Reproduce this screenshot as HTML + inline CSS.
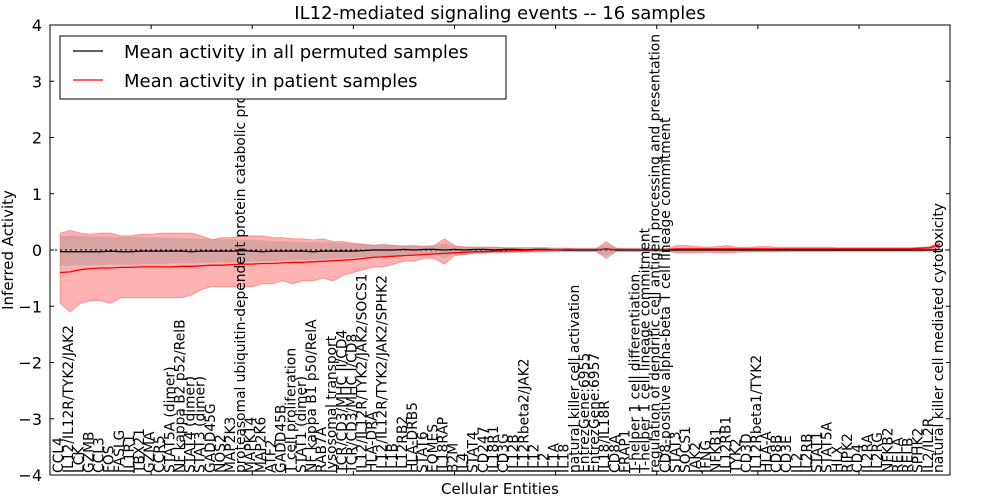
<!DOCTYPE html>
<html><head><meta charset="utf-8">
<style>
html,body{margin:0;padding:0;background:#fff;}
svg{display:block;font-family:"DejaVu Sans","Liberation Sans",sans-serif;}
</style></head>
<body>
<svg id="chart" width="1000" height="500" xmlns="http://www.w3.org/2000/svg">
<text x="500" y="19" font-size="18" text-anchor="middle">IL12-mediated signaling events -- 16 samples</text>
<text transform="translate(13,250) rotate(-90)" font-size="15" text-anchor="middle">Inferred Activity</text>
<text x="500" y="494" font-size="15" text-anchor="middle">Cellular Entities</text>
<g id="plot"></g>
<g id="legend">
<rect x="60" y="36" width="446" height="63" fill="#fff" stroke="#000" stroke-width="1"/>
<line x1="73" y1="51" x2="103" y2="51" stroke="#000" stroke-width="1.3"/>
<text x="124" y="58" font-size="18">Mean activity in all permuted samples</text>
<line x1="73" y1="80" x2="103" y2="80" stroke="#f00" stroke-width="1.3"/>
<text x="124" y="87" font-size="18">Mean activity in patient samples</text>
</g>
</svg>
<script>
const categories = ["CCL4","IL12/IL12R/TYK2/JAK2","LCK","GZMB","CCL3","FOS","FASLG","IL1R1","TBX21","GZMA","CCR5","STAT5A (dimer)","NF kappa B2 p52/RelB","STAT4 (dimer)","STAT3 (dimer)","GADD45G","NOS2","MAP2K3","proteasomal ubiquitin-dependent protein catabolic process","MAPK14","MAP2K6","ATF2","GADD45B","T cell proliferation","STAT1 (dimer)","NF kappa B1 p50/RelA","RAB7A","lysosomal transport","TCR/CD3/MHC II/CD4","TCR/CD3/MHC I/CD8","IL12/IL12R/TYK2/JAK2/SOCS1","HLA-DRA","IL12/IL12R/TYK2/JAK2/SPHK2","IL1B","IL12RB2","HLA-DRB5","STAT6","EOMES","IL18RAP","B2M","IL4","STAT4","CD247","IL18R1","CD3G","IL12B","IL12Rbeta2/JAK2","IL12","IL2","IL1A","IL18","natural killer cell activation","EntrezGene:6955","EntrezGene:6957","IL18/IL18R","CD8A","FRAP1","T-helper 1 cell differentiation","T-helper 1 cell lineage commitment","regulation of dendritic cell antigen processing and presentation","CD8-positive alpha-beta T cell lineage commitment","STAT3","SOCS1","JAK2","IFNG","NFKB1","IL12RB1","TYK2","CD3D","IL12Rbeta1/TYK2","HLA-A","CD8B","CD3E","IL2","IL2RB","STAT1","STAT5A","HLX","RIPK2","CD4","IL2RA","IL2RG","NFKB2","RELA","RELB","SPHK2","IL2/IL2R","natural killer cell mediated cytotoxicity"];
const patientMean = [-0.4,-0.39,-0.35,-0.33,-0.32,-0.32,-0.31,-0.31,-0.3,-0.3,-0.3,-0.3,-0.29,-0.29,-0.28,-0.27,-0.27,-0.26,-0.25,-0.25,-0.24,-0.24,-0.23,-0.22,-0.22,-0.21,-0.2,-0.19,-0.18,-0.17,-0.15,-0.13,-0.12,-0.11,-0.1,-0.09,-0.08,-0.07,-0.06,-0.05,-0.04,-0.03,-0.03,-0.02,-0.02,-0.01,-0.01,0,0,0,0.01,0.01,0.01,0.01,0.01,0.01,0.01,0.01,0.01,0.01,0.01,0.02,0.02,0.02,0.02,0.02,0.02,0.02,0.02,0.02,0.02,0.02,0.02,0.02,0.02,0.02,0.02,0.02,0.02,0.02,0.02,0.02,0.02,0.02,0.02,0.03,0.04,0.1];
const patientUpper = [0.3,0.35,0.3,0.28,0.3,0.3,0.25,0.25,0.28,0.28,0.3,0.3,0.3,0.3,0.25,0.18,0.22,0.22,0.25,0.25,0.25,0.22,0.22,0.2,0.2,0.18,0.2,0.15,0.15,0.12,0.1,0.08,0.1,0.08,0.06,0.08,0.06,0.08,0.2,0.08,0.05,0.05,0.05,0.05,0.04,0.04,0.04,0.04,0.04,0.03,0.03,0.02,0.02,0.02,0.15,0.03,0.02,0.02,0.02,0.02,0.02,0.08,0.08,0.06,0.05,0.06,0.08,0.05,0.05,0.06,0.06,0.05,0.05,0.05,0.05,0.05,0.05,0.04,0.04,0.04,0.04,0.04,0.04,0.04,0.04,0.05,0.06,0.15];
const patientLower = [-0.95,-1.1,-0.95,-0.9,-0.9,-0.95,-0.85,-0.85,-0.85,-0.85,-0.85,-0.85,-0.85,-0.8,-0.7,-0.65,-0.65,-0.65,-0.65,-0.65,-0.6,-0.6,-0.55,-0.6,-0.55,-0.55,-0.5,-0.55,-0.45,-0.4,-0.35,-0.3,-0.3,-0.25,-0.2,-0.2,-0.15,-0.15,-0.25,-0.1,-0.08,-0.06,-0.05,-0.05,-0.04,-0.04,-0.03,-0.03,-0.03,-0.02,-0.02,-0.02,-0.02,-0.02,-0.15,-0.02,-0.02,-0.02,-0.02,-0.02,-0.02,-0.05,-0.05,-0.05,-0.04,-0.05,-0.05,-0.04,-0.03,-0.03,-0.03,-0.03,-0.02,-0.02,-0.02,-0.02,-0.02,-0.02,-0.02,-0.02,-0.02,-0.02,-0.02,-0.02,-0.02,-0.02,-0.01,0];
const permutedMean = [-0.03,-0.03,-0.03,-0.03,-0.03,-0.02,-0.03,-0.03,-0.02,-0.02,-0.02,-0.02,-0.02,-0.03,-0.02,-0.02,-0.02,-0.02,-0.01,-0.02,-0.03,-0.02,-0.02,-0.02,-0.02,-0.03,-0.02,-0.02,-0.02,-0.02,-0.01,0,0,0,0.01,0,0.01,0.01,0,0.01,0,0.01,0.01,0,0.01,0.01,0,0.01,0.01,0,0,0,0,0,0.02,0,0,0,0,0,0,0,0,0,0,0,0,0,0,0,0,0,0,0,0,0,0,0,0,0,0,0,0,0,0,0,0,0.01];
const permutedUpper = [0.25,0.25,0.25,0.24,0.24,0.24,0.23,0.23,0.23,0.22,0.22,0.22,0.21,0.21,0.2,0.2,0.19,0.19,0.18,0.18,0.17,0.16,0.16,0.15,0.15,0.14,0.14,0.13,0.12,0.12,0.11,0.1,0.1,0.09,0.09,0.08,0.08,0.08,0.12,0.07,0.07,0.06,0.06,0.06,0.05,0.05,0.05,0.05,0.05,0.04,0.04,0.04,0.04,0.04,0.1,0.04,0.04,0.04,0.04,0.04,0.04,0.04,0.04,0.04,0.04,0.04,0.04,0.04,0.04,0.04,0.04,0.04,0.04,0.04,0.04,0.04,0.04,0.04,0.04,0.04,0.04,0.04,0.04,0.04,0.04,0.04,0.04,0.06];
const permutedLower = [-0.28,-0.28,-0.27,-0.27,-0.27,-0.26,-0.26,-0.26,-0.25,-0.25,-0.25,-0.24,-0.24,-0.24,-0.23,-0.23,-0.22,-0.22,-0.21,-0.21,-0.2,-0.2,-0.19,-0.18,-0.18,-0.17,-0.17,-0.16,-0.15,-0.14,-0.13,-0.12,-0.11,-0.1,-0.1,-0.09,-0.09,-0.08,-0.15,-0.08,-0.07,-0.06,-0.06,-0.05,-0.05,-0.05,-0.05,-0.05,-0.04,-0.04,-0.04,-0.04,-0.04,-0.04,-0.1,-0.04,-0.04,-0.04,-0.04,-0.04,-0.04,-0.04,-0.04,-0.04,-0.04,-0.04,-0.04,-0.04,-0.04,-0.04,-0.04,-0.04,-0.04,-0.04,-0.04,-0.04,-0.04,-0.04,-0.04,-0.04,-0.04,-0.04,-0.04,-0.04,-0.04,-0.04,-0.04,-0.04];
const yTicks = [-4,-3,-2,-1,0,1,2,3,4];

const L=50,R=950,T=25,B=475;
const xMax = categories.length + 1;
function xs(i){return L + (i+1)*(R-L)/xMax;}
function ys(v){return T + (4-v)*(B-T)/8;}
const NS="http://www.w3.org/2000/svg";
const g=document.getElementById('plot');
function mk(tag,attrs,parent){const e=document.createElementNS(NS,tag);for(const k in attrs)e.setAttribute(k,attrs[k]);(parent||g).appendChild(e);return e;}
function bandPath(up,lo){let d='';up.forEach((v,i)=>{d+=(i?'L':'M')+xs(i).toFixed(1)+','+ys(v).toFixed(1);});for(let i=lo.length-1;i>=0;i--)d+='L'+xs(i).toFixed(1)+','+ys(lo[i]).toFixed(1);return d+'Z';}
function linePath(a){return a.map((v,i)=>(i?'L':'M')+xs(i).toFixed(1)+','+ys(v).toFixed(1)).join('');}

const pb=mk('path',{d:bandPath(patientUpper,patientLower),fill:'#ff0000','fill-opacity':'0.3',stroke:'#ff0000','stroke-opacity':'0.3','stroke-width':'1'});


const gb=mk('path',{d:bandPath(permutedUpper,permutedLower),fill:'#808080','fill-opacity':'0.3',stroke:'none'});


const zl=mk('line',{x1:L,x2:R,y1:ys(0),y2:ys(0),stroke:'#000','stroke-width':'1','stroke-dasharray':'2,3'});


const bl=mk('path',{d:linePath(permutedMean),fill:'none',stroke:'#000','stroke-width':'1.3'});


const rl=mk('path',{d:linePath(patientMean),fill:'none',stroke:'#f00','stroke-width':'1.3'});



categories.forEach((c,i)=>{
  const t=mk('text',{transform:'translate('+(xs(i)+3).toFixed(1)+','+(B-2)+') rotate(-90)','font-size':'13.8'});
  
  
  t.textContent=c;
});
for(let k=10;k<xMax;k+=10){
  const a=mk('line',{x1:xs(k-1),x2:xs(k-1),y1:T,y2:T+4,stroke:'#000'});
  
  
  const b=mk('line',{x1:xs(k-1),x2:xs(k-1),y1:B,y2:B-4,stroke:'#000'});
  
  
}
yTicks.forEach(v=>{
  const a=mk('line',{x1:L,x2:L+4,y1:ys(v),y2:ys(v),stroke:'#000'});
  
  
  const b=mk('line',{x1:R,x2:R-4,y1:ys(v),y2:ys(v),stroke:'#000'});
  
  
  const t=mk('text',{x:L-8,y:ys(v)+6,'font-size':'16','text-anchor':'end'});
  
  
  t.textContent=v<0?'\u2212'+Math.abs(v):String(v);
});
const fr=mk('rect',{x:L,y:T,width:R-L,height:B-T,fill:'none',stroke:'#000','stroke-width':'1'});


</script>
</body></html>
